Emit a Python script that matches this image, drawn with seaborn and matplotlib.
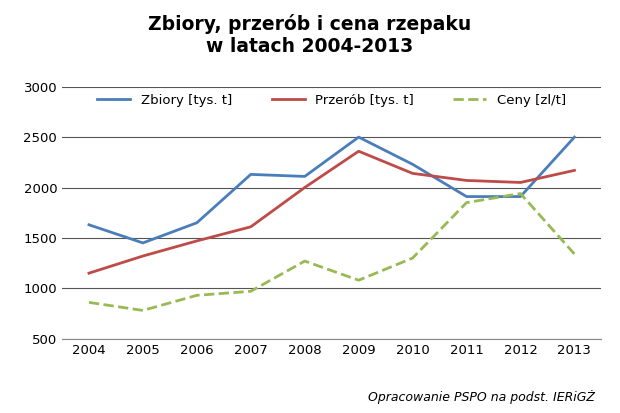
import matplotlib
matplotlib.use("Agg")
import matplotlib.pyplot as plt
import seaborn as sns
import pandas as pd

years = [2004, 2005, 2006, 2007, 2008, 2009, 2010, 2011, 2012, 2013]
zbiory = [1630, 1450, 1650, 2130, 2110, 2500, 2230, 1910, 1910, 2500]
przerob = [1150, 1320, 1470, 1610, 2000, 2360, 2140, 2070, 2050, 2170]
ceny = [860, 780, 930, 970, 1270, 1080, 1300, 1850, 1940, 1340]

df = pd.DataFrame({"year": [str(y) for y in years], "Zbiory": zbiory, "Przerob": przerob, "Ceny": ceny})

fig = plt.figure(figsize=(6.2, 4.13), dpi=100)
ax = fig.add_axes([0.1, 0.18, 0.87, 0.61])
sns.lineplot(data=df, x="year", y="Zbiory", ax=ax, color="#4a7ebb", lw=2, label="Zbiory [tys. t]", sort=False)
sns.lineplot(data=df, x="year", y="Przerob", ax=ax, color="#be4b48", lw=2, label="Przerób [tys. t]", sort=False)
sns.lineplot(data=df, x="year", y="Ceny", ax=ax, color="#98b954", lw=2, ls="--", label="Ceny [zl/t]", sort=False)
ax.set_ylim(500, 3000)
ax.set_yticks(range(500, 3001, 500))
ax.set_xlim(-0.5, 9.5)
ax.grid(axis="y", color="#555555", lw=0.8)
ax.set_axisbelow(True)
for s in ["top", "right", "left"]:
    ax.spines[s].set_visible(False)
ax.spines["bottom"].set_color("#888888")
ax.tick_params(length=0, labelsize=9.5)
ax.set_xlabel("")
ax.set_ylabel("")
ax.legend(loc="upper center", bbox_to_anchor=(0.5, 1.02), ncol=3, frameon=False, fontsize=9.5,
          handlelength=2.5, columnspacing=3)
fig.text(0.5, 0.965, "Zbiory, przerób i cena rzepaku\nw latach 2004-2013", ha="center", va="top",
         fontsize=13.5, fontweight="bold", linespacing=1.2)
fig.text(0.96, 0.03, "Opracowanie PSPO na podst. IERiGŻ", ha="right", fontsize=9, style="italic")
fig.savefig("out.png", dpi=100)
